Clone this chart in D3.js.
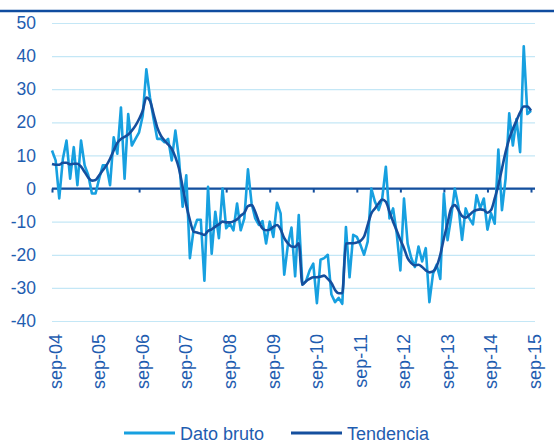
<!DOCTYPE html>
<html>
<head>
<meta charset="utf-8">
<script src="https://cdn.jsdelivr.net/npm/d3@7"></script>
<style>
  body { margin: 0; background: #fff; }
  svg { display: block; font-family: "Liberation Sans", Arial, sans-serif; }
</style>
</head>
<body>
<svg width="554" height="442"></svg>
<script>
// tick labels, one every 12 months (sep-04 .. sep-15)
var tickLabels = ["sep-04","sep-05","sep-06","sep-07","sep-08","sep-09",
                  "sep-10","sep-11","sep-12","sep-13","sep-14","sep-15"];
var yTicks = [-40, -30, -20, -10, 0, 10, 20, 30, 40, 50];

// monthly values, sep-04 .. sep-15 (133 months)
var datoBruto = [
  11.5, 8.5, -3, 9, 14.5, 3, 12.5, 1, 14.5, 7, 4, -1.5,
  -1.5, 3, 7, 7, 1, 15.5, 10.5, 24.5, 3, 22.5, 13, 15,
  17, 22, 36, 27.5, 21, 15, 15, 14, 15, 8.5, 17.5, 9,
  -5.5, 4, -21, -12.6, -9.4, -9.4, -27.8, 0.5, -19.7, -7, -15, 0,
  -12, -10.6, -12.6, -4.5, -12.6, -9, 5.8, -4.5, -9, -11, -9.8, -16.6,
  -10, -14.6, -4.3, -7.5, -26, -17, -11.8, -26.5, -8, -29, -28, -24.7,
  -22.7, -34.6, -21.5, -21, -20, -32, -34.3, -33, -34.8, -11.6, -26.8, -14,
  -14.6, -17, -20, -16, 0, -4, -6.5, -3, 6.6, -9, -6, -13.6,
  -24.7, -3, -16.6, -21, -23.7, -17.5, -22, -18, -34.3, -25.7, -23, -27.3,
  -1.5, -15.6, -8.6, 0, -5.5, -15.5, -6, -9, -10.8, -2, -6, -3,
  -12.4, -7.5, -10.6, 11.8, -6.5, 3, 22.7, 13, 21, 11, 43, 22.5,
  23.5
];
var tendencia = [
  7.4, 7.2, 7.2, 7.8, 7.8, 7.3, 7.5, 7.5, 6.6, 5, 3.3, 2.4,
  2.6, 4, 5.5, 7, 9, 11.5, 13.8, 15, 15.6, 16.3, 17.5, 19,
  21, 23.5, 27.5, 26.5, 22.5, 18.5, 16, 14.5, 13.3, 12, 9.5, 6,
  0.5, -5, -9.5, -13, -13.3, -13.6, -14, -12.8, -12.3, -11.5, -10.8, -10,
  -10.2, -10.2, -9.9, -9.3, -8.2, -7.3, -5.3, -5, -7, -10, -12, -12.6,
  -12.4, -11.6, -11, -12.3, -15, -16.5, -17.5, -17.6, -16.5, -29, -28, -27.3,
  -26.8, -26.8, -26.6, -26.3, -27.3, -28.5, -30.6, -31.6, -31.6, -16.6, -16.5, -16.5,
  -16.3, -15.8, -14.5, -11, -7.5, -6, -4.5, -3.3, -4, -7, -10, -12.7,
  -15.5, -18, -21, -22.5, -23.2, -23, -23.7, -24.7, -25.3, -25, -23.5, -20,
  -15, -10.5, -6, -5, -6.5, -8.3, -8.8, -8, -7, -6.5, -6.3, -6.5,
  -7.3, -6.5, -3, 1, 6, 11, 15, 18, 20.5, 23, 24.8, 24.8,
  23.5
];

var svg = d3.select("svg");
var left = 52, right = 535;
var colLight = "#17a0e0", colDark = "#154f9e", textCol = "#1f5db0";

var x = d3.scaleLinear().domain([0, datoBruto.length - 1]).range([left, 531]);
var y = d3.scaleLinear().domain([-40, 50]).range([321, 23]);

// top rule
svg.append("line")
    .attr("x1", 0).attr("x2", 554).attr("y1", 11).attr("y2", 11)
    .attr("stroke", "#0f4c9f").attr("stroke-width", 2.5);

// gridlines + y labels (plain hyphen for negatives, as in the source)
var yAxis = svg.append("g")
    .attr("transform", "translate(" + left + ",0)")
    .call(d3.axisLeft(y).tickValues(yTicks).tickSize(-(right - left)).tickPadding(16)
      .tickFormat(function (d) { return String(d); }));
yAxis.select(".domain").remove();
yAxis.selectAll(".tick line").attr("stroke", "#c4e7f6").attr("stroke-width", 1.2);
yAxis.selectAll(".tick text")
    .attr("fill", textCol).style("font-size", "17.5px")
    .style("font-family", "'Liberation Sans', Arial, sans-serif");

// zero line with year ticks
var zeroAxis = svg.append("g")
    .attr("transform", "translate(0," + y(0) + ")")
    .call(d3.axisBottom(x).tickValues(d3.range(0, 133, 12)).tickSize(4).tickFormat(""));
zeroAxis.select(".domain").remove();
zeroAxis.selectAll(".tick line").attr("stroke", colDark).attr("stroke-width", 2);
svg.append("line")
    .attr("x1", left).attr("x2", right).attr("y1", y(0)).attr("y2", y(0))
    .attr("stroke", colDark).attr("stroke-width", 2.2);

// x labels under the plot
var xLab = svg.append("g")
    .attr("transform", "translate(0,334)")
    .call(d3.axisBottom(x).tickValues(d3.range(0, 133, 12)).tickSize(0)
      .tickFormat(function (d, i) { return tickLabels[i]; }));
xLab.select(".domain").remove();
xLab.selectAll(".tick text")
    .attr("fill", textCol).style("font-size", "18px")
    .style("font-family", "'Liberation Sans', Arial, sans-serif")
    .attr("text-anchor", "end")
    .attr("transform", "translate(3,0) rotate(-90)")
    .attr("x", 0).attr("y", 0).attr("dy", "0.35em");

var line = d3.line()
    .x(function (d, i) { return x(i); })
    .y(function (d) { return y(d); });

svg.append("path").datum(datoBruto)
    .attr("d", line).attr("fill", "none")
    .attr("stroke", colLight).attr("stroke-width", 2.6)
    .attr("stroke-linejoin", "round");

svg.append("path").datum(tendencia)
    .attr("d", line.curve(d3.curveMonotoneX)).attr("fill", "none")
    .attr("stroke", colDark).attr("stroke-width", 2.6)
    .attr("stroke-linejoin", "round");

// legend
var legend = [
  { name: "Dato bruto", color: colLight, x: 124 },
  { name: "Tendencia", color: colDark, x: 291 }
];
var lg = svg.append("g").selectAll("g").data(legend).enter().append("g")
    .attr("transform", function (d) { return "translate(" + d.x + ",433)"; });
lg.append("line").attr("x1", 0).attr("x2", 51)
    .attr("stroke", function (d) { return d.color; }).attr("stroke-width", 3);
lg.append("text").attr("x", 56).attr("y", 6.5)
    .attr("fill", textCol).style("font-size", "18px")
    .text(function (d) { return d.name; });
</script>
</body>
</html>
